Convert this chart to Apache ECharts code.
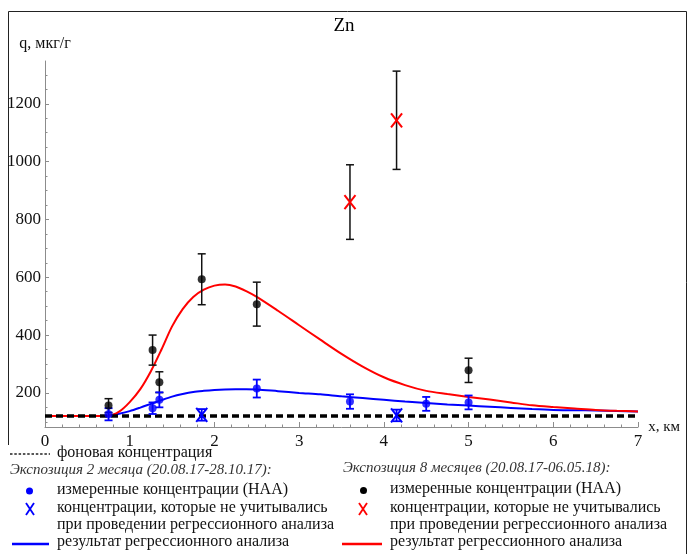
<!DOCTYPE html>
<html>
<head>
<meta charset="utf-8">
<script src="https://cdn.jsdelivr.net/npm/echarts@6.0.0/dist/echarts.min.js"></script>
<style>
  html, body { margin: 0; padding: 0; background: #fff; }
  #chart { width: 688px; height: 554px; }
</style>
</head>
<body>
<div id="chart"></div>
<script>
// фоновая концентрация
const bgLevel = 120;
const bgX = [0, 7];

// Экспозиция 8 месяцев: измеренные (учтённые) точки
const x8 = [0.75, 1.27, 1.35, 1.85, 2.5, 5.0];
const q8 = [156, 348, 237, 593, 507, 278];
const e8 = [24, 52, 36, 88, 76, 42];
// 8 месяцев: не учитывались
const x8ex = [3.6, 4.15];
const q8ex = [860, 1143];
const e8ex = [129, 170];

// Экспозиция 2 месяца
const x2 = [0.75, 1.27, 1.35, 2.5, 3.6, 4.5, 5.0];
const q2 = [126, 147, 176, 215, 170, 162, 167];
const e2 = [21, 20, 26, 31, 25, 24, 24];
const x2ex = [1.85, 4.15];
const q2ex = [124, 122];
const e2ex = [20, 20];

// результат регрессионного анализа
const fitX = [0, 0.5, 0.75, 0.875, 1, 1.125, 1.25, 1.375, 1.5, 1.625, 1.75, 1.875, 2, 2.125, 2.25, 2.375, 2.5, 2.75, 3, 3.25, 3.5, 3.75, 4, 4.25, 4.5, 4.75, 5, 5.25, 5.5, 5.75, 6, 6.25, 6.5, 6.75, 7];
const fit8 = [120, 120, 121, 135, 168, 213, 275, 350, 430, 490, 532, 557, 571, 575, 568, 552, 532, 484, 434, 384, 335, 291, 254, 227, 207, 196, 186, 177, 167, 157, 151, 146, 141, 138, 136];
const fit2 = [120, 120, 121, 128, 137, 149, 162, 175, 187, 196, 203, 207, 210, 212, 213, 213, 212, 206, 200, 195, 188, 182, 176, 170, 165, 160, 156, 152, 148, 144, 141, 140, 139, 137, 136];

// подписи осей
const xTicks = [0, 1, 2, 3, 4, 5, 6, 7];
const yTicks = [200, 400, 600, 800, 1000, 1200];
const yMinorTicks = [100, 150, 250, 300, 350, 450, 500, 550, 650, 700, 750, 850, 900, 950, 1050, 1100, 1150, 1250, 1300];

const FONT = "'Liberation Serif', 'Times New Roman', serif";
const AXIS_GRAY = '#8c8c8c';

function pairs(xs, ys) {
  return xs.map((x, i) => [x, ys[i]]);
}

function errorBars(xs, qs, es, color, lw) {
  return {
    type: 'custom',
    z: 4,
    silent: true,
    data: xs.map((x, i) => [x, qs[i] - es[i], qs[i] + es[i]]),
    encode: { x: 0, y: [1, 2] },
    renderItem: function (params, api) {
      const lo = api.coord([api.value(0), api.value(1)]);
      const hi = api.coord([api.value(0), api.value(2)]);
      const w = 4;
      const st = { stroke: color, lineWidth: lw };
      return {
        type: 'group',
        children: [
          { type: 'line', shape: { x1: lo[0], y1: lo[1], x2: hi[0], y2: hi[1] }, style: st },
          { type: 'line', shape: { x1: lo[0] - w, y1: lo[1], x2: lo[0] + w, y2: lo[1] }, style: st },
          { type: 'line', shape: { x1: hi[0] - w, y1: hi[1], x2: hi[0] + w, y2: hi[1] }, style: st }
        ]
      };
    }
  };
}

function crosses(xs, qs, color) {
  return {
    type: 'custom',
    z: 6,
    silent: true,
    data: pairs(xs, qs),
    renderItem: function (params, api) {
      const p = api.coord([api.value(0), api.value(1)]);
      const dx = 5.5, dy = 7;
      const st = { stroke: color, lineWidth: 2 };
      return {
        type: 'group',
        children: [
          { type: 'line', shape: { x1: p[0] - dx, y1: p[1] - dy, x2: p[0] + dx, y2: p[1] + dy }, style: st },
          { type: 'line', shape: { x1: p[0] + dx, y1: p[1] - dy, x2: p[0] - dx, y2: p[1] + dy }, style: st }
        ]
      };
    }
  };
}

// легенда под графиком
function txt(x, y, s, extra) {
  return {
    type: 'text', left: x, top: y - 9,
    style: Object.assign({ text: s, font: '16px ' + FONT, fill: '#111' }, extra || {})
  };
}
function hline(x1, x2, y, color, width, dash) {
  return {
    type: 'line',
    shape: { x1: x1, y1: y, x2: x2, y2: y },
    style: { stroke: color, lineWidth: width, lineDash: dash || null }
  };
}
function crossIcon(cx, cy, color) {
  return {
    type: 'group',
    children: [
      { type: 'line', shape: { x1: cx - 4, y1: cy - 6, x2: cx + 4, y2: cy + 6 }, style: { stroke: color, lineWidth: 1.8 } },
      { type: 'line', shape: { x1: cx + 4, y1: cy - 6, x2: cx - 4, y2: cy + 6 }, style: { stroke: color, lineWidth: 1.8 } }
    ]
  };
}
function dotIcon(cx, cy, color) {
  return { type: 'circle', shape: { cx: cx, cy: cy, r: 3.5 }, style: { fill: color } };
}

const italic = { font: 'italic 15px ' + FONT, fill: '#333' };

const graphics = [
  // рамка
  { type: 'polyline', shape: { points: [[8.5, 445], [8.5, 11.5], [686.5, 11.5], [686.5, 554]] }, style: { stroke: '#222', lineWidth: 1, fill: null } },
  // фон
  hline(10, 50, 454, '#222', 1.5, [2.5, 1.8]),
  txt(57, 454, 'фоновая концентрация'),
  // 2 месяца
  txt(10, 472, 'Экспозиция 2 месяца (20.08.17-28.10.17):', italic),
  dotIcon(29.5, 491, '#0000ff'),
  txt(57, 491, 'измеренные концентрации (НАА)'),
  crossIcon(30, 509, '#0000ff'),
  txt(57, 509, 'концентрации, которые не учитывались'),
  txt(57, 526, 'при проведении регрессионного анализа'),
  hline(12, 49, 544, '#0000ff', 2.5),
  txt(57, 543, 'результат регрессионного анализа'),
  // 8 месяцев
  txt(343, 470, 'Экспозиция 8 месяцев (20.08.17-06.05.18):', italic),
  dotIcon(363.5, 490.5, '#000'),
  txt(390, 490, 'измеренные концентрации (НАА)'),
  crossIcon(363, 509, '#ff0000'),
  txt(390, 509, 'концентрации, которые не учитывались'),
  txt(390, 526, 'при проведении регрессионного анализа'),
  hline(342, 382, 544, '#ff0000', 2.5),
  txt(390, 543, 'результат регрессионного анализа')
];

const chart = echarts.init(document.getElementById('chart'));
chart.setOption({
  animation: false,
  backgroundColor: '#fff',
  title: {
    text: 'Zn', left: 'center', top: 12,
    textStyle: { fontFamily: FONT, fontSize: 19, fontWeight: 'normal', color: '#000' }
  },
  grid: { left: 45, top: 61, width: 593, height: 366 },
  xAxis: {
    type: 'value', min: 0, max: 7, interval: 1,
    name: 'x, км', nameLocation: 'end', nameGap: 9,
    nameTextStyle: { fontFamily: FONT, fontSize: 15, color: '#111', padding: [6, 0, 0, 0] },
    axisLine: { onZero: false, lineStyle: { color: AXIS_GRAY, width: 1 } },
    axisTick: { inside: true, length: 5, lineStyle: { color: AXIS_GRAY } },
    minorTick: { show: true, splitNumber: 5, length: 2.5, lineStyle: { color: AXIS_GRAY } },
    axisLabel: {
      margin: 6, fontFamily: FONT, fontSize: 17, color: '#111',
      customValues: xTicks
    },
    splitLine: { show: false }
  },
  yAxis: [{
    type: 'value', min: 82, max: 1348,
    name: 'q, мкг/г', nameLocation: 'end', nameGap: 9,
    nameTextStyle: { fontFamily: FONT, fontSize: 16, color: '#111', align: 'center' },
    axisLine: { show: true, lineStyle: { color: AXIS_GRAY, width: 1 } },
    axisTick: { inside: true, length: 4, lineStyle: { color: AXIS_GRAY }, customValues: yTicks },
    axisLabel: {
      margin: 4, fontFamily: FONT, fontSize: 17, color: '#111', customValues: yTicks,
      formatter: function (v) { return String(v); }
    },
    splitLine: { show: false }
  }, {
    type: 'value', min: 82, max: 1348, position: 'left',
    axisLine: { show: false },
    axisTick: { show: true, inside: true, length: 2.5, lineStyle: { color: AXIS_GRAY }, customValues: yMinorTicks },
    axisLabel: { show: false, customValues: yMinorTicks },
    splitLine: { show: false }
  }],
  series: [
    {
      type: 'line', data: pairs(fitX, fit2), smooth: 0.3, showSymbol: false, z: 2,
      lineStyle: { color: '#0000ff', width: 2 }
    },
    {
      type: 'line', data: pairs(fitX, fit8), smooth: 0.3, showSymbol: false, z: 2,
      lineStyle: { color: '#ff0000', width: 2 }
    },
    {
      type: 'line', data: bgX.map(x => [x, bgLevel]), showSymbol: false, z: 3,
      lineStyle: { color: '#000', width: 3.5, type: [7, 4] }
    },
    errorBars(x8, q8, e8, '#111', 1.5),
    errorBars(x8ex, q8ex, e8ex, '#111', 1.5),
    errorBars(x2, q2, e2, '#0000ff', 1.8),
    errorBars(x2ex, q2ex, e2ex, '#0000ff', 1.8),
    {
      type: 'scatter', data: pairs(x8, q8), symbol: 'circle', symbolSize: 8, z: 5,
      itemStyle: { color: '#000' }
    },
    {
      type: 'scatter', data: pairs(x2, q2), symbol: 'circle', symbolSize: 8, z: 5,
      itemStyle: { color: '#0000ff' }
    },
    crosses(x8ex, q8ex, '#ff0000'),
    crosses(x2ex, q2ex, '#0000ff')
  ],
  graphic: graphics
});
</script>
</body>
</html>
